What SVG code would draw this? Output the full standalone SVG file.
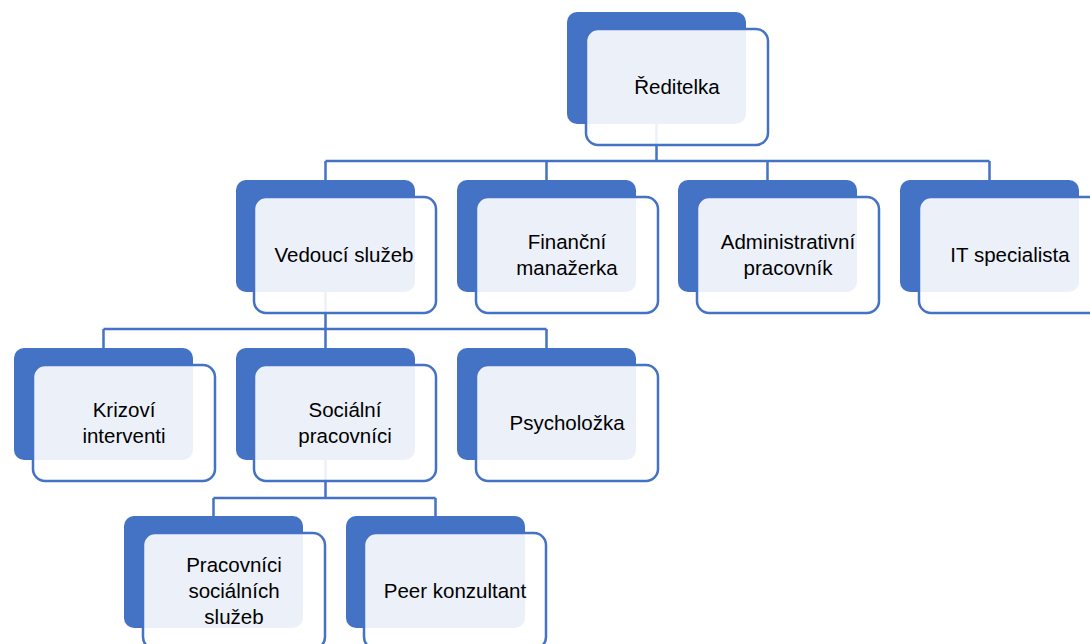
<svg xmlns="http://www.w3.org/2000/svg" width="1090" height="644" viewBox="0 0 1090 644">
<style>
.back{fill:#4472C4;}
.front{fill:#FFFFFF;fill-opacity:0.9;stroke:#4472C4;stroke-width:2.5;}
.con{fill:none;stroke:#4472C4;stroke-width:2.5;}
text{font-family:"Liberation Sans",Arial,sans-serif;font-size:20.5px;fill:#000;text-anchor:middle;}
</style>
<rect width="1090" height="644" fill="#FFFFFF"/>
<g id="connectors">
<path class="con" d="M656.5,124 V161 M325.5,161 H989.5 M325.5,161 V180 M546.5,161 V180 M767.5,161 V180 M989.5,161 V180"/>
<path class="con" d="M325.5,292 V329 M103.5,329 H546.5 M103.5,329 V348 M325.5,329 V348 M546.5,329 V348"/>
<path class="con" d="M325.5,460 V498 M213.5,498 H435.5 M213.5,498 V516 M435.5,498 V516"/>
</g>
<g id="n-reditelka">
<rect class="back" x="567" y="12" width="179" height="112" rx="10"/>
<rect class="front" x="586" y="29" width="182" height="116" rx="12"/>
<text x="677" y="94">Ředitelka</text>
</g>
<g id="n-vedouci">
<rect class="back" x="236" y="180" width="179" height="112" rx="10"/>
<rect class="front" x="254" y="197" width="182" height="116" rx="12"/>
<text x="344" y="262">Vedoucí služeb</text>
</g>
<g id="n-financni">
<rect class="back" x="457" y="180" width="179" height="112" rx="10"/>
<rect class="front" x="476" y="197" width="182" height="116" rx="12"/>
<text x="567" y="249">Finanční</text>
<text x="567" y="275">manažerka</text>
</g>
<g id="n-admin">
<rect class="back" x="678" y="180" width="179" height="112" rx="10"/>
<rect class="front" x="697" y="197" width="182" height="116" rx="12"/>
<text x="788" y="249">Administrativní</text>
<text x="788" y="275">pracovník</text>
</g>
<g id="n-it">
<rect class="back" x="900" y="180" width="179" height="112" rx="10"/>
<rect class="front" x="919" y="197" width="182" height="116" rx="12"/>
<text x="1010" y="262">IT specialista</text>
</g>
<g id="n-krizovi">
<rect class="back" x="14" y="348" width="179" height="112" rx="10"/>
<rect class="front" x="33" y="365" width="182" height="116" rx="12"/>
<text x="124" y="417">Krizoví</text>
<text x="124" y="443">interventi</text>
</g>
<g id="n-socialni">
<rect class="back" x="236" y="348" width="179" height="112" rx="10"/>
<rect class="front" x="254" y="365" width="182" height="116" rx="12"/>
<text x="345" y="417">Sociální</text>
<text x="345" y="443">pracovníci</text>
</g>
<g id="n-psycholozka">
<rect class="back" x="457" y="348" width="179" height="112" rx="10"/>
<rect class="front" x="476" y="365" width="182" height="116" rx="12"/>
<text x="567" y="430">Psycholožka</text>
</g>
<g id="n-pracovnici">
<rect class="back" x="124" y="516" width="179" height="112" rx="10"/>
<rect class="front" x="143" y="533" width="182" height="116" rx="12"/>
<text x="234" y="572">Pracovníci</text>
<text x="234" y="598">sociálních</text>
<text x="234" y="624">služeb</text>
</g>
<g id="n-peer">
<rect class="back" x="346" y="516" width="179" height="112" rx="10"/>
<rect class="front" x="364" y="533" width="182" height="116" rx="12"/>
<text x="455" y="598">Peer konzultant</text>
</g>
</svg>
